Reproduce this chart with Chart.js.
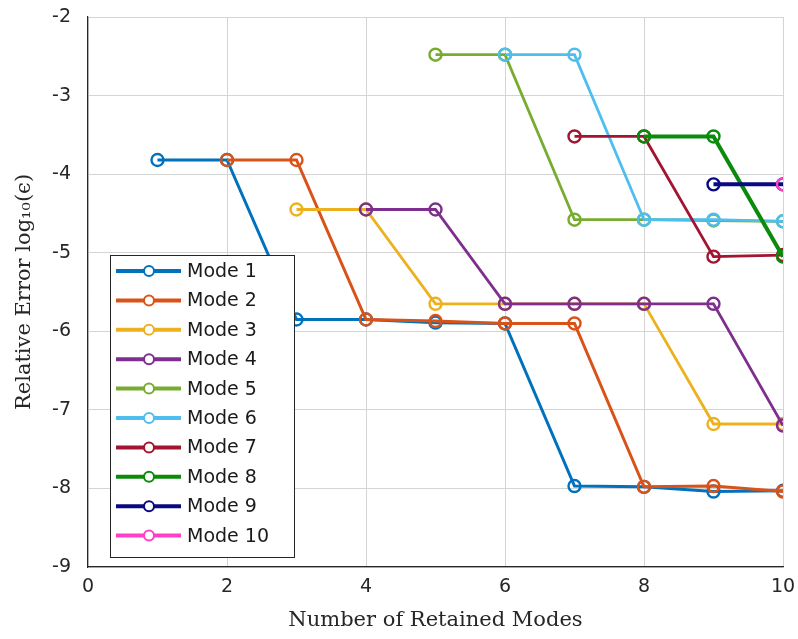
<!DOCTYPE html>
<html>
<head>
<meta charset="utf-8">
<script src="https://cdn.jsdelivr.net/npm/chart.js@4.4.1/dist/chart.umd.min.js"></script>
<style>
  html, body { margin: 0; padding: 0; background: #ffffff; }
  #wrap { width: 798px; height: 639px; }
</style>
</head>
<body>
<div id="wrap"><canvas id="chart" width="798" height="639"></canvas></div>
<script>
// retained-mode counts start at the mode number: mode k has values for x = k..10
const modeLabels = ["Mode 1", "Mode 2", "Mode 3", "Mode 4", "Mode 5", "Mode 6", "Mode 7", "Mode 8", "Mode 9", "Mode 10"];
const mode1 = [-3.82, -3.82, -5.85, -5.85, -5.89, -5.90, -7.97, -7.98, -8.04, -8.03];
const mode2 = [-3.82, -3.82, -5.85, -5.87, -5.90, -5.90, -7.98, -7.97, -8.04];
const mode3 = [-4.45, -4.45, -5.65, -5.65, -5.65, -5.65, -7.18, -7.18];
const mode4 = [-4.45, -4.45, -5.65, -5.65, -5.65, -5.65, -7.20];
const mode5 = [-2.48, -2.48, -4.58, -4.58, -4.59, -4.60];
const mode6 = [-2.48, -2.48, -4.58, -4.58, -4.60];
const mode7 = [-3.52, -3.52, -5.05, -5.03];
const mode8 = [-3.52, -3.52, -5.05];
const mode9 = [-4.13, -4.13];
const mode10 = [-4.13];
const xTicks = [0, 2, 4, 6, 8, 10];
const yTicks = [-9, -8, -7, -6, -5, -4, -3, -2];

const modeValues = [mode1, mode2, mode3, mode4, mode5, mode6, mode7, mode8, mode9, mode10];
const colors = ["#0072BD", "#D95319", "#EDB120", "#7E2F8E", "#77AC30", "#4DBEEE", "#A2142F", "#0B8A0B", "#0A0A80", "#FF3FC4"];
const widths = [3, 3, 2.8, 2.8, 2.8, 2.8, 2.8, 4, 4, 3];

const datasets = modeValues.map((vals, i) => ({
  label: modeLabels[i],
  data: vals.map((v, j) => ({ x: i + 1 + j, y: v })),
  borderColor: colors[i],
  backgroundColor: colors[i],
  borderWidth: widths[i],
  pointStyle: "circle",
  pointRadius: 6,
  pointBorderWidth: 2.4,
  pointBackgroundColor: "rgba(255,255,255,0)",
  pointBorderColor: colors[i],
  tension: 0,
  order: 10 - i
}));

// legend box drawn like the original: line sample with a marker in the middle
const boxLegend = {
  id: "boxLegend",
  afterDraw(chart) {
    const ctx = chart.ctx;
    const x0 = 110, y0 = 255, w = 184, h = 302, rowH = 29.4, firstY = 271;
    ctx.save();
    ctx.fillStyle = "#ffffff";
    ctx.fillRect(x0, y0, w, h);
    ctx.strokeStyle = "#262626";
    ctx.lineWidth = 1;
    ctx.strokeRect(x0 + 0.5, y0 + 0.5, w, h);
    ctx.font = "19px 'DejaVu Sans'";
    ctx.textBaseline = "middle";
    chart.data.datasets.forEach((ds, i) => {
      const y = firstY + i * rowH;
      ctx.strokeStyle = ds.borderColor;
      ctx.lineWidth = 4;
      ctx.beginPath();
      ctx.moveTo(116, y);
      ctx.lineTo(181, y);
      ctx.stroke();
      ctx.lineWidth = 2;
      ctx.fillStyle = "#ffffff";
      ctx.beginPath();
      ctx.arc(149, y, 5, 0, Math.PI * 2);
      ctx.fill();
      ctx.stroke();
      ctx.fillStyle = "#1a1a1a";
      ctx.fillText(ds.label, 187, y + 1);
    });
    ctx.restore();
  }
};

new Chart(document.getElementById("chart").getContext("2d"), {
  type: "line",
  data: { datasets },
  options: {
    responsive: false,
    animation: false,
    layout: { padding: { top: 17, right: 15, left: 0, bottom: 0 } },
    plugins: { legend: { display: false }, tooltip: { enabled: false } },
    scales: {
      x: {
        type: "linear",
        min: 0,
        max: 10,
        afterFit: function (scale) {
          scale.height = 72;
          scale.paddingLeft = 0;
          scale.paddingRight = 0;
        },
        afterBuildTicks: function (scale) { scale.ticks = xTicks.map(v => ({ value: v })); },
        grid: { color: "#d4d4d4", lineWidth: 1, drawTicks: false },
        border: { display: true, color: "#262626", width: 1.2 },
        ticks: { padding: 9, color: "#262626", font: { family: "'DejaVu Sans'", size: 19 } },
        title: {
          display: true,
          text: "Number of Retained Modes",
          color: "#262626",
          padding: { top: 0, bottom: 6 },
          font: { family: "'DejaVu Serif'", size: 21 }
        }
      },
      y: {
        type: "linear",
        min: -9,
        max: -2,
        afterFit: function (scale) {
          scale.width = 88;
          scale.paddingTop = 0;
          scale.paddingBottom = 0;
        },
        afterBuildTicks: function (scale) { scale.ticks = yTicks.map(v => ({ value: v })); },
        grid: { color: "#d4d4d4", lineWidth: 1, drawTicks: false },
        border: { display: true, color: "#262626", width: 1.2 },
        ticks: { padding: 17, color: "#262626", font: { family: "'DejaVu Sans'", size: 19 } },
        title: {
          display: true,
          text: "Relative Error log\u2081\u2080(\u03F5)",
          color: "#262626",
          padding: { top: 12, bottom: 0 },
          font: { family: "'DejaVu Serif'", size: 21 }
        }
      }
    }
  },
  plugins: [boxLegend]
});
</script>
</body>
</html>
